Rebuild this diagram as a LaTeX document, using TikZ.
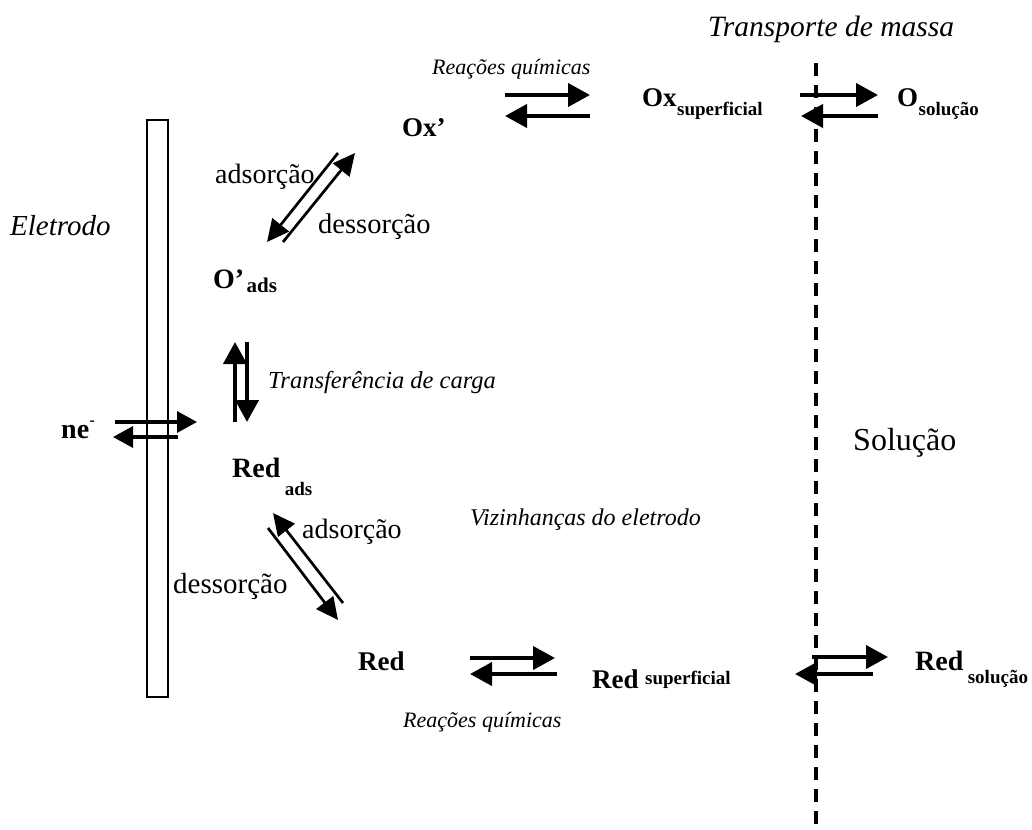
\documentclass[tikz,border=0pt]{standalone}
\usepackage{fontspec}
\setmainfont{Liberation Serif}
\usetikzlibrary{arrows.meta}
\tikzset{
  lbl/.style={inner sep=0pt, anchor=base west},
  itl/.style={lbl, font=\fontsize{#1}{#1}\selectfont\itshape},
  rml/.style={lbl, font=\fontsize{#1}{#1}\selectfont},
  spc/.style={lbl, font=\fontsize{27}{27}\selectfont\bfseries},
  sub/.style={lbl, font=\fontsize{19}{19}\selectfont\bfseries},
  harr/.style={line width=4pt, -{Triangle[length=22pt,width=23pt]}},
  darr/.style={line width=2.7pt, -{Triangle[length=22pt,width=21pt]}},
  narr/.style={line width=3.3pt, -{Triangle[length=20pt,width=21pt]}},
  electrode/.style={line width=1.5pt},
  boundary/.style={line width=4pt, dash pattern=on 13pt off 9pt}
}
\begin{document}
\begin{tikzpicture}[x=1pt,y=-1pt]
\useasboundingbox (0,0) rectangle (1032,829);
% electrode and solution boundary
\draw[electrode] (147,120) rectangle (168,697);
\coordinate (bt) at (816,63);
\coordinate (bb) at (816,829);
\draw[boundary] (bt) -- (bb);
% italic labels
\node[itl=29.5] (trm) at (708,37) {Transporte de massa};
\node[itl=22] (rq1) at (432,75) {Reações químicas};
\node[itl=29] (elt) at (10,235) {Eletrodo};
\node[itl=24.5] (tdc) at (268,388) {Transferência de carga};
\node[itl=24] (viz) at (470,525) {Vizinhanças do eletrodo};
\node[itl=22] (rq2) at (403,727) {Reações químicas};
\node[rml=32] (sol) at (853,450) {Solução};
\node[rml=28] (ads1) at (215,183) {adsorção};
\node[rml=28.5] (des1) at (318,233) {dessorção};
\node[rml=28] (ads2) at (302,538) {adsorção};
\node[rml=29] (des2) at (173,593) {dessorção};
% species
\node[spc] (oxs) at (642,107) {Ox};
\node[sub] (oxss) at (oxs.base east) [yshift=-9pt] {superficial};
\node[spc] (osol) at (897,107) {O};
\node[sub] (osols) at (osol.base east) [yshift=-9pt] {solução};
\node[spc] (oxp) at (402,137) {Ox’};
\node[spc,font=\fontsize{28}{28}\selectfont\bfseries] (oads) at (213,288) {O’};
\node[sub,font=\fontsize{21}{21}\selectfont\bfseries] (oadss) at (oads.base east) [xshift=2pt,yshift=-4pt] {ads};
\node[spc,font=\fontsize{28}{28}\selectfont\bfseries] (ne) at (61,438) {ne};
\node[sub,font=\fontsize{16}{16}\selectfont\bfseries] (nes) at (ne.base east) [yshift=13pt] {-};
\node[spc,font=\fontsize{28}{28}\selectfont\bfseries] (rads) at (232,477) {Red};
\node[sub] (radss) at (rads.base east) [xshift=4pt,yshift=-18pt] {ads};
\node[spc] (red) at (358,670) {Red};
\node[spc] (rsup) at (592,688) {Red};
\node[sub] (rsups) at (rsup.base east) [xshift=6pt,yshift=4pt] {superficial};
\node[spc,font=\fontsize{28}{28}\selectfont\bfseries] (rsol) at (915,670) {Red};
\node[sub] (rsols) at (rsol.base east) [xshift=4pt,yshift=-13pt] {solução};
% arrow end points
\coordinate (a1s) at (505,95);  \coordinate (a1e) at (590,95);
\coordinate (a2s) at (590,116); \coordinate (a2e) at (505,116);
\coordinate (a3s) at (800,95);  \coordinate (a3e) at (878,95);
\coordinate (a4s) at (878,116); \coordinate (a4e) at (801,116);
\coordinate (d1s) at (338,153); \coordinate (d1e) at (267,242);
\coordinate (d2s) at (283,242); \coordinate (d2e) at (355,153);
\coordinate (v1s) at (235,422); \coordinate (v1e) at (235,342);
\coordinate (v2s) at (247,342); \coordinate (v2e) at (247,422);
\coordinate (n1s) at (115,422); \coordinate (n1e) at (197,422);
\coordinate (n2s) at (178,437); \coordinate (n2e) at (113,437);
\coordinate (e1s) at (343,603); \coordinate (e1e) at (273,513);
\coordinate (e2s) at (268,528); \coordinate (e2e) at (338,620);
\coordinate (b1s) at (470,658); \coordinate (b1e) at (555,658);
\coordinate (b2s) at (557,674); \coordinate (b2e) at (470,674);
\coordinate (b3s) at (812,657); \coordinate (b3e) at (888,657);
\coordinate (b4s) at (873,674); \coordinate (b4e) at (795,674);
% arrows
\draw[harr] (a1s) -- (a1e);
\draw[harr] (a2s) -- (a2e);
\draw[harr] (a3s) -- (a3e);
\draw[harr] (a4s) -- (a4e);
\draw[darr] (d1s) -- (d1e);
\draw[darr] (d2s) -- (d2e);
\draw[harr] (v1s) -- (v1e);
\draw[harr] (v2s) -- (v2e);
\draw[narr] (n1s) -- (n1e);
\draw[narr] (n2s) -- (n2e);
\draw[darr] (e1s) -- (e1e);
\draw[darr] (e2s) -- (e2e);
\draw[harr] (b1s) -- (b1e);
\draw[harr] (b2s) -- (b2e);
\draw[harr] (b3s) -- (b3e);
\draw[harr] (b4s) -- (b4e);
\end{tikzpicture}
\end{document}
